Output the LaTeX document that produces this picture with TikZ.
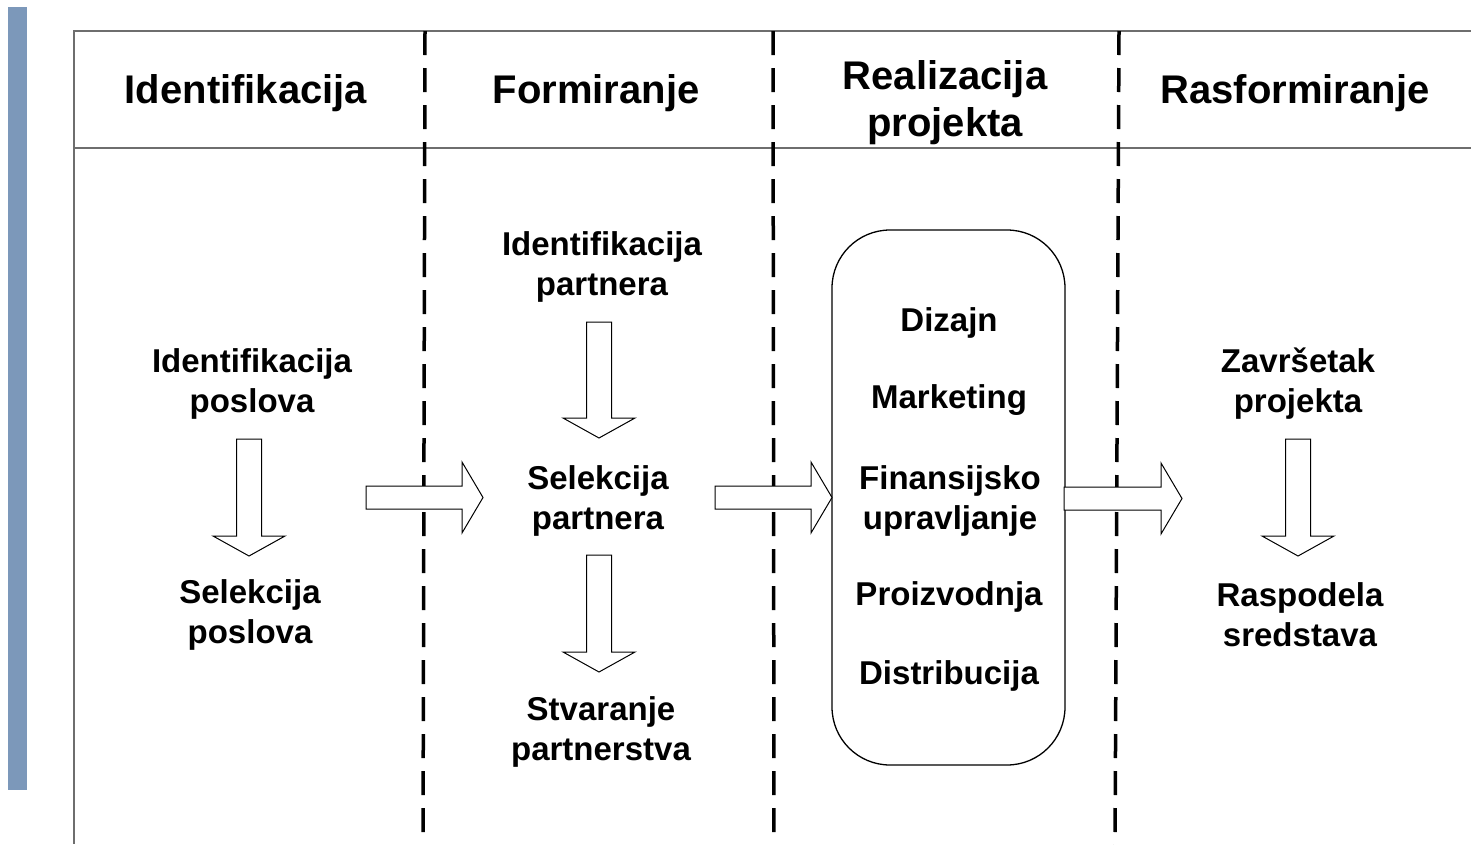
\documentclass[tikz,border=0pt]{standalone}
\usepackage{fontspec}
\setmainfont{Liberation Sans}
\definecolor{barblue}{RGB}{124,152,186}
\definecolor{tablegray}{RGB}{110,110,110}
\newcommand\hdfont{\fontsize{40}{47}\selectfont\bfseries}
\newcommand\bdfont{\fontsize{33}{40}\selectfont\bfseries}
\newcommand\dnarrow[4]{%
  \draw[blockarrow] (#1-12.5,#2) -- (#1+12.5,#2) -- (#1+12.5,#3) -- (#1+36,#3)
    -- (#1,#4) -- (#1-36,#3) -- (#1-12.5,#3) -- cycle;}
\newcommand\rtarrow[4]{%
  \draw[blockarrow] (#2,#1-11.5) -- (#3,#1-11.5) -- (#3,#1-35.5) -- (#4,#1)
    -- (#3,#1+35.5) -- (#3,#1+11.5) -- (#2,#1+11.5) -- cycle;}
\begin{document}
\begin{tikzpicture}[x=1pt,y=-1pt,
  tableline/.style={draw=tablegray,line width=1.6pt},
  phaseline/.style={draw=black,line width=3.5pt,dash pattern=on 24pt off 13pt},
  blockarrow/.style={draw=black,fill=white,line width=1pt,line join=miter},
  hdtext/.style={font=\hdfont,align=center,inner sep=0pt},
  bdtext/.style={font=\bdfont,align=center,inner sep=0pt},
  stagebox/.style={draw=black,line width=1.3pt,rounded corners=58pt,
    minimum width=233pt,minimum height=535pt,inner sep=0pt}]
\useasboundingbox (0,0) rectangle (1471,844);
\fill[white] (0,0) rectangle (1471,844);
% blue side bar
\fill[barblue] (8,7) rectangle (27,790);
% table frame
\draw[tableline] (1471,31) -- (74,31) -- (74,844);
\draw[tableline] (74,148) -- (1471,148);
% phase separators
\coordinate (s1t) at (425,31); \coordinate (s1b) at (423,850);
\coordinate (s2t) at (773,31); \coordinate (s2b) at (774,850);
\coordinate (s3t) at (1119,31); \coordinate (s3b) at (1115,850);
\draw[phaseline] (s1t) -- (s1b);
\draw[phaseline] (s2t) -- (s2b);
\draw[phaseline] (s3t) -- (s3b);
% headers
\node[hdtext] (h1) at (246,93) {Identifikacija};
\node[hdtext] (h2) at (596,93) {Formiranje};
\node[hdtext] (h3) at (945,103) {Realizacija\\projekta};
\node[hdtext] (h4) at (1295,93) {Rasformiranje};
% stage box
\node[stagebox] (box) at (948.5,497.5) {};
% body texts
\node[bdtext] (idpos) at (252,384) {Identifikacija\\poslova};
\node[bdtext] (selpos) at (250,615) {Selekcija\\poslova};
\node[bdtext] (idpar) at (602,267) {Identifikacija\\partnera};
\node[bdtext] (selpar) at (598,501) {Selekcija\\partnera};
\node[bdtext] (stvpar) at (601,732) {Stvaranje\\partnerstva};
\node[bdtext] (diz) at (949,323) {Dizajn};
\node[bdtext] (mkt) at (949,400) {Marketing};
\node[bdtext] (fin) at (950,501) {Finansijsko\\upravljanje};
\node[bdtext] (pro) at (949,597) {Proizvodnja};
\node[bdtext] (dis) at (949,676) {Distribucija};
\node[bdtext] (zav) at (1298,384) {Završetak\\projekta};
\node[bdtext] (ras) at (1300,615) {Raspodela\\sredstava};
% block arrows
\dnarrow{249}{439}{536}{556}
\dnarrow{599}{322}{418}{438}
\dnarrow{599}{555}{652}{672}
\dnarrow{1298}{439}{536}{556}
\rtarrow{497.5}{366}{462}{483}
\rtarrow{497.5}{715}{811}{832}
\rtarrow{498.5}{1064}{1161}{1182}
\end{tikzpicture}
\end{document}
